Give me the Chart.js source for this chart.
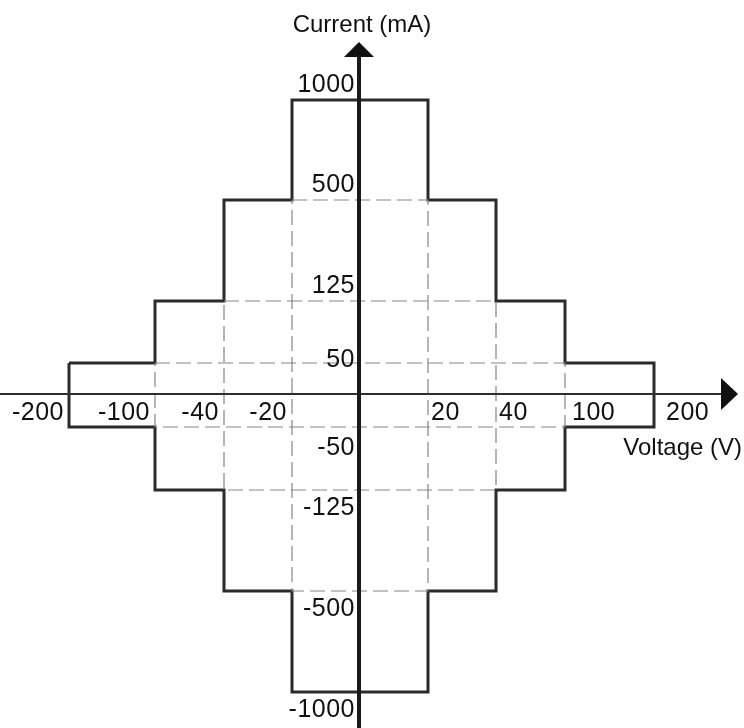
<!DOCTYPE html>
<html>
<head>
<meta charset="utf-8">
<script src="https://cdn.jsdelivr.net/npm/chart.js@4.4.1/dist/chart.umd.min.js"></script>
<style>
  html, body { margin: 0; padding: 0; background: #fff; }
  #wrap { width: 744px; height: 728px; }
</style>
</head>
<body>
<div id="wrap"><canvas id="ivChart"></canvas></div>
<script>
// operating limits: up to limitV[k] volts the current is limited to limitI[k] mA
const limitV = [200, 100, 40, 20];
const limitI = [50, 125, 500, 1000];

// tick labels on the axes
const voltTicks = [-200, -100, -40, -20, 20, 40, 100, 200];
const currTicks = [1000, 500, 125, 50, -50, -125, -500, -1000];

// axis breakpoints (non linear axes, every step gets its own space)
const voltStops = [-200, -100, -40, -20, 0, 20, 40, 100, 200];
const currStops = [-1000, -500, -125, -50, 0, 50, 125, 500, 1000];

// outline of the stepped region, going clockwise from the left
function outline() {
    const pts = [];
    // top half, left to right
    for (let k = 0; k < limitV.length; k++) {
        pts.push({ x: -limitV[k], y: limitI[k] });
        const next = k + 1 < limitV.length ? -limitV[k + 1] : limitV[k];
        pts.push({ x: next, y: limitI[k] });
    }
    for (let k = limitV.length - 2; k >= 0; k--) {
        pts.push({ x: limitV[k + 1], y: limitI[k] });
        pts.push({ x: limitV[k], y: limitI[k] });
    }
    // bottom half, right to left
    const bottom = pts.map(p => ({ x: -p.x, y: -p.y }));
    const all = pts.concat(bottom);
    all.push(all[0]);
    return all;
}

// dashed rectangles inside the region
function innerBox(v, i) {
    return [{ x: -v, y: i }, { x: v, y: i }, { x: v, y: -i }, { x: -v, y: -i }, { x: -v, y: i }];
}

// scale that gives each interval between stops a set share of the axis
class StepScale extends Chart.LinearScale {
    _frac(value) {
        const s = this.options.stops, w = this.options.spans;
        const total = w.reduce((a, b) => a + b, 0);
        let acc = 0;
        for (let i = 0; i < s.length - 1; i++) {
            if (value <= s[i + 1] || i === s.length - 2) {
                return (acc + w[i] * (value - s[i]) / (s[i + 1] - s[i])) / total;
            }
            acc += w[i];
        }
        return 1;
    }
    getPixelForValue(value) {
        return this.getPixelForDecimal(this._frac(value));
    }
    getValueForPixel(pixel) {
        const s = this.options.stops, w = this.options.spans;
        const total = w.reduce((a, b) => a + b, 0);
        let d = this.getDecimalForPixel(pixel) * total;
        for (let i = 0; i < w.length; i++) {
            if (d <= w[i] || i === w.length - 1) return s[i] + (s[i + 1] - s[i]) * d / w[i];
            d -= w[i];
        }
    }
}
StepScale.id = 'step';
StepScale.defaults = Chart.LinearScale.defaults;
Chart.register(StepScale);

const FAMILY = '"Liberation Sans", Arial, Helvetica, sans-serif';

// axes with arrows + labels
const axesPlugin = {
    id: 'axesPlugin',
    afterDatasetsDraw(chart) {
        const ctx = chart.ctx;
        const xs = chart.scales.x, ys = chart.scales.y;
        const x0 = xs.getPixelForValue(0);
        const y0 = ys.getPixelForValue(0);
        ctx.save();

        // horizontal axis
        ctx.strokeStyle = '#2e2e2e';
        ctx.lineWidth = 2;
        ctx.beginPath();
        ctx.moveTo(0, y0);
        ctx.lineTo(724, y0);
        ctx.stroke();
        ctx.fillStyle = '#111';
        ctx.beginPath();
        ctx.moveTo(721, y0 - 16);
        ctx.lineTo(738, y0);
        ctx.lineTo(721, y0 + 16);
        ctx.closePath();
        ctx.fill();

        // vertical axis
        ctx.strokeStyle = '#1a1a1a';
        ctx.lineWidth = 4;
        ctx.beginPath();
        ctx.moveTo(x0, chart.height);
        ctx.lineTo(x0, 55);
        ctx.stroke();
        ctx.beginPath();
        ctx.moveTo(x0 - 15, 57);
        ctx.lineTo(x0, 42);
        ctx.lineTo(x0 + 15, 57);
        ctx.closePath();
        ctx.fill();

        // tick labels
        ctx.font = '25px ' + FAMILY;
        ctx.letterSpacing = '0.5px';
        ctx.fillStyle = '#111';
        ctx.textBaseline = 'alphabetic';
        voltTicks.forEach(v => {
            const px = xs.getPixelForValue(v);
            ctx.textAlign = v < 0 ? 'right' : 'left';
            const gap = v < 0 ? 5 : (v >= 200 ? 12 : v >= 100 ? 7 : 3);
            ctx.fillText(String(v), v < 0 ? px - gap : px + gap, y0 + 26);
        });
        ctx.textAlign = 'right';
        currTicks.forEach(c => {
            const py = ys.getPixelForValue(c);
            let base;
            if (c === 50) base = py + 4;
            else if (c === -50) base = py + 28;
            else base = c > 0 ? py - 8 : py + 25;
            ctx.fillText(String(c), x0 - 4, base);
        });

        // axis titles
        ctx.font = '24px ' + FAMILY;
        ctx.letterSpacing = '0px';
        ctx.textAlign = 'center';
        ctx.fillText('Current (mA)', x0 + 3, 32);
        ctx.textAlign = 'right';
        ctx.fillText('Voltage (V)', 742, y0 + 61);
        ctx.restore();
    }
};

const boxStyle = {
    showLine: true,
    borderColor: '#858585',
    borderWidth: 1.2,
    borderDash: [15, 6],
    pointRadius: 0,
    fill: false,
    clip: false
};

const ctx = document.getElementById('ivChart').getContext('2d');
new Chart(ctx, {
    type: 'scatter',
    data: {
        datasets: [
            { ...boxStyle, label: 'box1', data: innerBox(limitV[1], limitI[0]) },
            { ...boxStyle, label: 'box2', data: innerBox(limitV[2], limitI[1]) },
            { ...boxStyle, label: 'box3', data: innerBox(limitV[3], limitI[2]) },
            {
                label: 'Operating region',
                data: outline(),
                showLine: true,
                borderColor: '#2b2b2b',
                borderWidth: 3,
                borderJoinStyle: 'miter',
                pointRadius: 0,
                fill: false,
                clip: false
            }
        ]
    },
    options: {
        responsive: true,
        maintainAspectRatio: false,
        animation: false,
        layout: { padding: { left: 69, right: 90, top: 100, bottom: 36 } },
        plugins: {
            legend: { display: false },
            tooltip: { enabled: false }
        },
        scales: {
            x: {
                type: 'step',
                display: false,
                min: -200,
                max: 200,
                stops: voltStops,
                spans: [86, 69, 68, 67, 69, 68, 69, 89]
            },
            y: {
                type: 'step',
                display: false,
                min: -1000,
                max: 1000,
                stops: currStops,
                spans: [101, 101, 63, 33, 31, 62, 101, 100]
            }
        }
    },
    plugins: [axesPlugin]
});
</script>
</body>
</html>
